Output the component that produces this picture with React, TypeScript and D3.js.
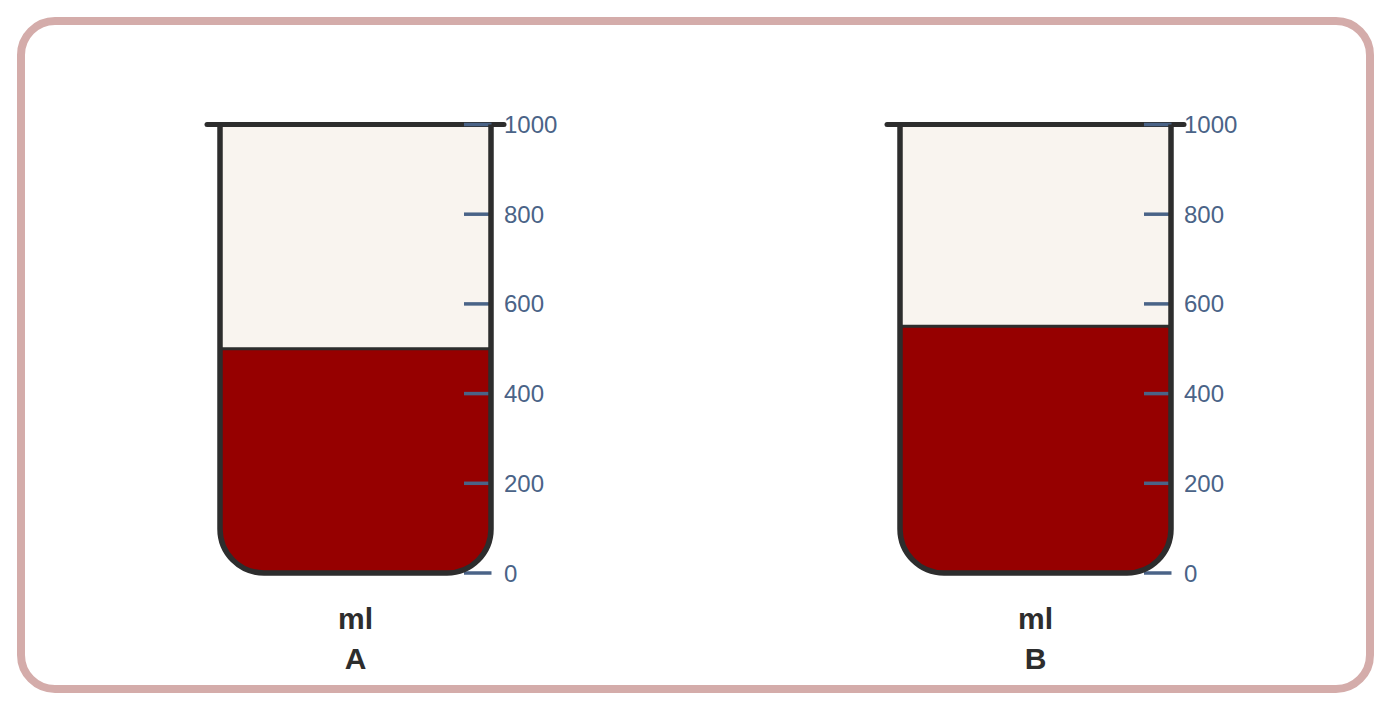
import { useRef, useEffect } from 'react';
import * as d3 from 'd3';

const beakers = ['A', 'B'];
const volumes = [500, 550];
const tickValues = [0, 200, 400, 600, 800, 1000];
const unitLabel = 'ml';

const W = 1392;
const H = 712;

export default function App() {
  const svgRef = useRef<SVGSVGElement>(null);

  useEffect(() => {
    if (!svgRef.current) return;
    const svg = d3.select(svgRef.current);
    svg.selectAll('*').remove();

    // outer frame
    svg
      .append('rect')
      .attr('x', 21)
      .attr('y', 21)
      .attr('width', 1349)
      .attr('height', 668)
      .attr('rx', 34)
      .attr('fill', '#fff')
      .attr('stroke', '#d4acaa')
      .attr('stroke-width', 8);

    const y = d3.scaleLinear().domain([0, 1000]).range([573, 124.5]);
    const x = d3.scalePoint().domain(beakers).range([355.5, 1035.5]);

    const defs = svg.append('defs');

    beakers.forEach((name, i) => {
      const cx = x(name)!;
      const left = cx - 135.5;
      const right = cx + 135.5;
      const top = y(1000);
      const bottom = y(0);
      const r = 44;
      const g = svg.append('g');

      const outline = `M${left},${top} L${left},${bottom - r} A${r},${r} 0 0 0 ${left + r},${bottom} L${right - r},${bottom} A${r},${r} 0 0 0 ${right},${bottom - r} L${right},${top}`;

      defs
        .append('clipPath')
        .attr('id', `clip-${i}`)
        .append('path')
        .attr('d', outline + ' Z');

      g.append('path').attr('d', outline + ' Z').attr('fill', '#f9f4ef');

      const level = y(volumes[i]);
      g.append('rect')
        .attr('clip-path', `url(#clip-${i})`)
        .attr('x', left)
        .attr('y', level)
        .attr('width', right - left)
        .attr('height', bottom - level + 5)
        .attr('fill', '#960000');

      g.append('line')
        .attr('x1', left)
        .attr('x2', right)
        .attr('y1', level)
        .attr('y2', level)
        .attr('stroke', '#2d2d2d')
        .attr('stroke-width', 3);

      // rim
      g.append('line')
        .attr('x1', left - 13)
        .attr('x2', right + 13)
        .attr('y1', top)
        .attr('y2', top)
        .attr('stroke', '#2d2d2d')
        .attr('stroke-width', 5)
        .attr('stroke-linecap', 'round');

      // ticks
      g.selectAll('.tick')
        .data(tickValues)
        .join('line')
        .attr('x1', right - 27)
        .attr('x2', right + 0.5)
        .attr('y1', (d) => y(d))
        .attr('y2', (d) => y(d))
        .attr('stroke', '#4a6387')
        .attr('stroke-width', 3.5);

      // outline (open at the top)
      g.append('path')
        .attr('d', outline)
        .attr('fill', 'none')
        .attr('stroke', '#2d2d2d')
        .attr('stroke-width', 5.5);

      g.selectAll('.lbl')
        .data(tickValues)
        .join('text')
        .attr('x', right + 13)
        .attr('y', (d) => y(d))
        .attr('dominant-baseline', 'central')
        .attr('font-family', 'Liberation Sans, Arial, sans-serif')
        .attr('font-size', 24)
        .attr('fill', '#4a6387')
        .text((d) => d);

      g.append('text')
        .attr('x', cx)
        .attr('y', 618)
        .attr('text-anchor', 'middle')
        .attr('dominant-baseline', 'central')
        .attr('font-family', 'Liberation Sans, Arial, sans-serif')
        .attr('font-weight', 'bold')
        .attr('font-size', 30)
        .attr('fill', '#2d2d2d')
        .text(unitLabel);

      g.append('text')
        .attr('x', cx)
        .attr('y', 658)
        .attr('text-anchor', 'middle')
        .attr('dominant-baseline', 'central')
        .attr('font-family', 'Liberation Sans, Arial, sans-serif')
        .attr('font-weight', 'bold')
        .attr('font-size', 30)
        .attr('fill', '#2d2d2d')
        .text(name);
    });
  }, []);

  return (
    <svg
      ref={svgRef}
      width={W}
      height={H}
      style={{ position: 'absolute', left: 0, top: 0, display: 'block' }}
    />
  );
}
